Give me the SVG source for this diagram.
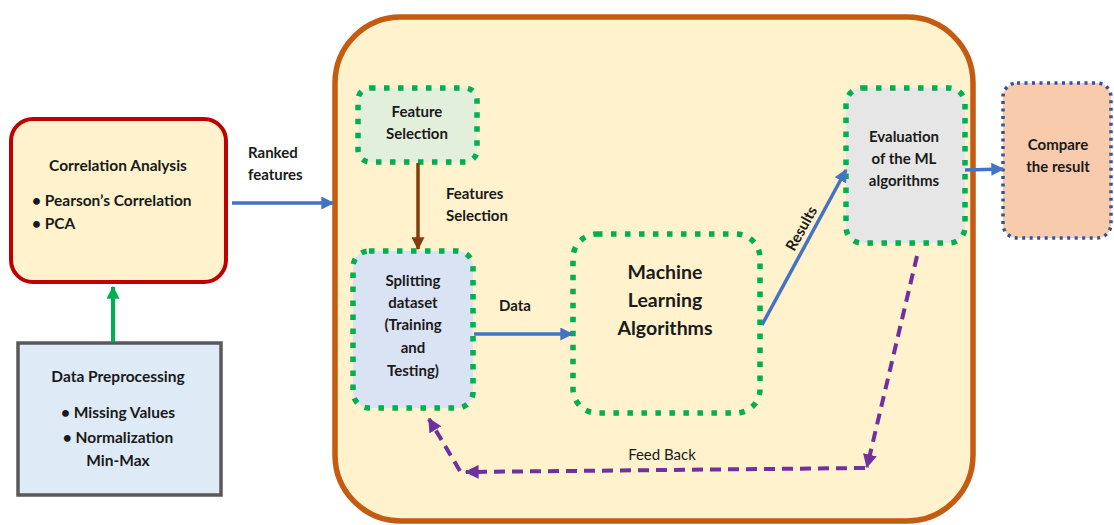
<svg xmlns="http://www.w3.org/2000/svg" width="1114" height="525" viewBox="0 0 1114 525">
  <style>
    .t { font-family: Lato, "Liberation Sans", sans-serif; font-weight: bold; fill: #1a1a1a; text-anchor: middle; }
    .s13 { font-size: 15px; }
    .s14 { font-size: 15.5px; }
    .big { font-size: 19.5px; }
    .left { text-anchor: start; }
    .norm { font-weight: normal; font-size: 15px; }
    .dotg { fill: none; stroke: #00B050; stroke-width: 5.5; stroke-dasharray: 5.5 8.5; }
    .blue { fill: none; stroke: #4472C4; stroke-width: 3.5; }
    .purple { fill: none; stroke: #7030A0; stroke-width: 4; stroke-dasharray: 11 7; }
  </style>
  <defs>
    <marker id="ahBlue" viewBox="0 0 10 10" refX="9" refY="5" markerUnits="userSpaceOnUse" markerWidth="13" markerHeight="13" orient="auto">
      <path d="M0,0 L10,5 L0,10 z" fill="#4472C4"/>
    </marker>
    <marker id="ahGreen" viewBox="0 0 10 10" refX="9" refY="5" markerUnits="userSpaceOnUse" markerWidth="13" markerHeight="13" orient="auto">
      <path d="M0,0 L10,5 L0,10 z" fill="#00B050"/>
    </marker>
    <marker id="ahBrown" viewBox="0 0 10 10" refX="9" refY="5" markerUnits="userSpaceOnUse" markerWidth="13" markerHeight="13" orient="auto">
      <path d="M0,0 L10,5 L0,10 z" fill="#843C0C"/>
    </marker>
    <marker id="ahPurple" viewBox="0 0 10 10" refX="9" refY="5" markerUnits="userSpaceOnUse" markerWidth="14" markerHeight="14" orient="auto">
      <path d="M0,0 L10,5 L0,10 z" fill="#7030A0"/>
    </marker>
  </defs>

  <rect width="1114" height="525" fill="#ffffff"/>

  <!-- main pipeline container -->
  <g id="container">
    <rect x="335" y="17" width="638" height="504" rx="66" ry="66" fill="#FFF2CC" stroke="#C55A11" stroke-width="5.5"/>
  </g>

  <g id="correlation">
    <rect x="11" y="119" width="215" height="163" rx="22" ry="22" fill="#FFF2CC" stroke="#C00000" stroke-width="4"/>
    <text class="t s14" x="118" y="171">Correlation Analysis</text>
    <text class="t s14 left" x="32" y="206">•  Pearson’s Correlation</text>
    <text class="t s14 left" x="32" y="229">•  PCA</text>
  </g>

  <g id="preprocessing">
    <rect x="18" y="343" width="203" height="152" fill="#DEEBF7" stroke="#595959" stroke-width="3.5"/>
    <text class="t s14" x="118" y="382">Data Preprocessing</text>
    <text class="t s14" x="118" y="418">• Missing Values</text>
    <text class="t s14" x="118" y="443">• Normalization</text>
    <text class="t s14" x="118" y="466">Min-Max</text>
  </g>

  <g id="feature-selection">
    <rect x="358" y="88" width="119" height="74" rx="12" ry="12" fill="#E2EFDA"/>
    <rect x="358" y="88" width="119" height="74" rx="12" ry="12" class="dotg"/>
    <text class="t s13" x="417" y="117">Feature</text>
    <text class="t s13" x="417" y="139">Selection</text>
  </g>

  <g id="splitting">
    <rect x="353" y="251" width="120" height="157" rx="16" ry="16" fill="#DAE3F3"/>
    <rect x="353" y="251" width="120" height="157" rx="16" ry="16" class="dotg"/>
    <text class="t s13" x="413" y="286">Splitting</text>
    <text class="t s13" x="413" y="308">dataset</text>
    <text class="t s13" x="413" y="330">(Training</text>
    <text class="t s13" x="413" y="353">and</text>
    <text class="t s13" x="413" y="376">Testing)</text>
  </g>

  <g id="ml-algorithms">
    <rect x="573" y="234" width="187" height="179" rx="24" ry="24" class="dotg"/>
    <text class="t big" x="665" y="279">Machine</text>
    <text class="t big" x="665" y="307">Learning</text>
    <text class="t big" x="665" y="335">Algorithms</text>
  </g>

  <g id="evaluation">
    <rect x="846" y="88" width="119" height="155" rx="16" ry="16" fill="#E7E6E6"/>
    <rect x="846" y="88" width="119" height="155" rx="16" ry="16" class="dotg"/>
    <text class="t s13" x="904" y="142">Evaluation</text>
    <text class="t s13" x="904" y="164">of the ML</text>
    <text class="t s13" x="904" y="186">algorithms</text>
  </g>

  <g id="compare">
    <rect x="1003" y="83" width="108" height="155" rx="14" ry="14" fill="#F8CBAD" stroke="#2F5597" stroke-width="3.5" stroke-dasharray="3 4.5"/>
    <text class="t s13" x="1058" y="150">Compare</text>
    <text class="t s13" x="1058" y="172">the result</text>
  </g>

  <g id="connectors">
    <!-- preprocessing to correlation -->
    <line x1="113" y1="342" x2="113" y2="287" stroke="#00B050" stroke-width="4" marker-end="url(#ahGreen)"/>
    <!-- ranked features into pipeline -->
    <line x1="232" y1="203" x2="333" y2="203" class="blue" marker-end="url(#ahBlue)"/>
    <text class="t s13 left" x="248" y="158">Ranked</text>
    <text class="t s13 left" x="248" y="180">features</text>
    <!-- feature selection to splitting -->
    <line x1="418" y1="163" x2="418" y2="249" stroke="#843C0C" stroke-width="3.5" marker-end="url(#ahBrown)"/>
    <text class="t s13 left" x="446" y="199">Features</text>
    <text class="t s13 left" x="446" y="221">Selection</text>
    <!-- splitting to ML -->
    <line x1="474" y1="334" x2="572" y2="334" class="blue" marker-end="url(#ahBlue)"/>
    <text class="t s13" x="515" y="311">Data</text>
    <!-- ML to evaluation -->
    <line x1="762" y1="325" x2="846" y2="170" class="blue" marker-end="url(#ahBlue)"/>
    <text class="t s13" transform="translate(806,231) rotate(-61)" x="0" y="0">Results</text>
    <!-- evaluation to compare -->
    <line x1="965" y1="170" x2="1003" y2="169" class="blue" marker-end="url(#ahBlue)"/>
    <!-- feedback loop -->
    <line x1="917" y1="256" x2="867" y2="467" class="purple" marker-end="url(#ahPurple)"/>
    <line x1="865" y1="468" x2="466" y2="472" class="purple" marker-end="url(#ahPurple)"/>
    <line x1="460" y1="471" x2="429" y2="419" class="purple" marker-end="url(#ahPurple)"/>
    <text class="t norm" x="662" y="460">Feed Back</text>
  </g>
</svg>
